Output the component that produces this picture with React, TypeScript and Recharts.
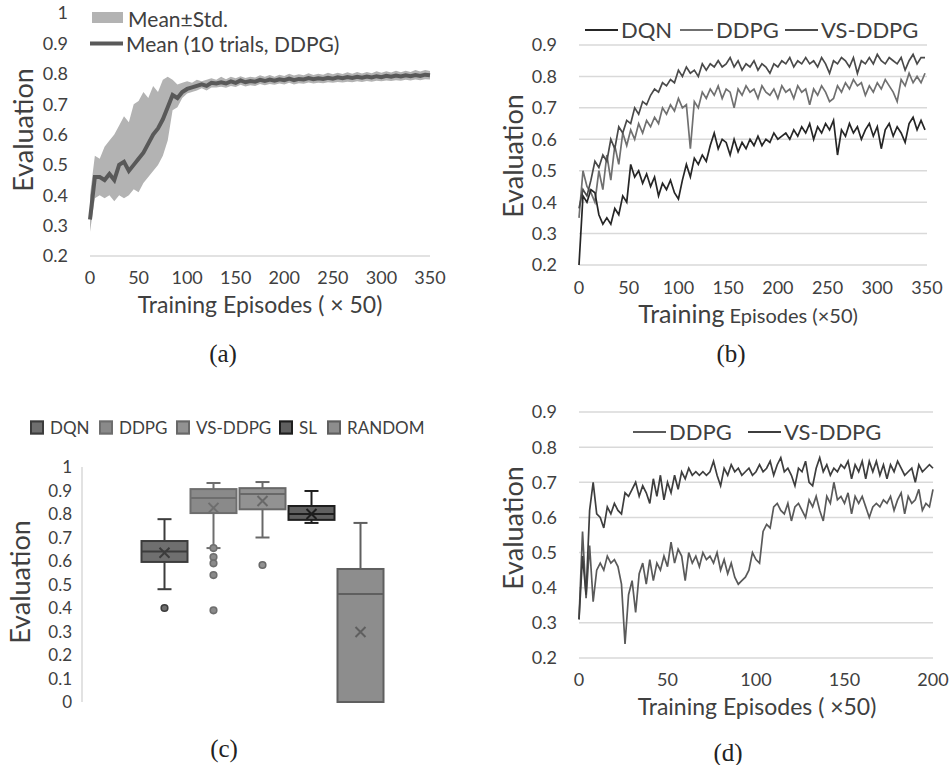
import React from 'react';
import { ComposedChart, LineChart, Line, Area, Bar, XAxis, YAxis, CartesianGrid } from 'recharts';

const FONT = 'Lato, "Open Sans", sans-serif';
const INK = '#404040';
const GRID = '#d9d9d9';

// (a) mean and mean±std over 10 DDPG trials, sampled every 5 episodes
const MEAN_A = [
  0.32, 0.46, 0.46, 0.45, 0.47, 0.45, 0.50, 0.51, 0.48, 0.50,
  0.52, 0.54, 0.57, 0.60, 0.62, 0.65, 0.69, 0.73, 0.72, 0.74,
  0.75, 0.755, 0.76, 0.765, 0.76, 0.77, 0.768, 0.772, 0.768, 0.775,
  0.77, 0.778, 0.772, 0.776, 0.774, 0.78, 0.776, 0.781, 0.777, 0.782,
  0.779, 0.784, 0.779, 0.783, 0.781, 0.786, 0.782, 0.785, 0.783, 0.787,
  0.784, 0.788, 0.785, 0.789, 0.786, 0.79, 0.787, 0.791, 0.788, 0.792,
  0.789, 0.793, 0.79, 0.794, 0.791, 0.795, 0.792, 0.796, 0.793, 0.797,
  0.795,
];
const UPPER_A = [
  0.40, 0.53, 0.52, 0.56, 0.58, 0.60, 0.63, 0.66, 0.64, 0.70,
  0.71, 0.74, 0.72, 0.76, 0.74, 0.78, 0.79, 0.78, 0.765, 0.77,
  0.775, 0.77, 0.78, 0.775, 0.78, 0.785, 0.78, 0.79, 0.782, 0.79,
  0.785, 0.792, 0.786, 0.79, 0.788, 0.795, 0.79, 0.796, 0.79, 0.797,
  0.793, 0.80, 0.794, 0.798, 0.795, 0.802, 0.796, 0.80, 0.797, 0.803,
  0.798, 0.803, 0.799, 0.805, 0.80, 0.806, 0.801, 0.806, 0.802, 0.808,
  0.803, 0.808, 0.804, 0.81, 0.805, 0.81, 0.806, 0.812, 0.807, 0.812,
  0.809,
];
const LOWER_A = [
  0.28, 0.39, 0.40, 0.39, 0.40, 0.38, 0.40, 0.39, 0.40, 0.42,
  0.41, 0.44, 0.46, 0.48, 0.50, 0.53, 0.58, 0.68, 0.69, 0.72,
  0.735, 0.74, 0.745, 0.752, 0.745, 0.755, 0.755, 0.757, 0.754, 0.76,
  0.756, 0.764, 0.758, 0.762, 0.76, 0.766, 0.762, 0.766, 0.764, 0.768,
  0.765, 0.77, 0.765, 0.769, 0.767, 0.771, 0.768, 0.77, 0.769, 0.772,
  0.77, 0.773, 0.771, 0.774, 0.772, 0.775, 0.773, 0.776, 0.774, 0.777,
  0.775, 0.778, 0.776, 0.779, 0.777, 0.78, 0.778, 0.781, 0.779, 0.782,
  0.781,
];

// (b) evaluation curves, sampled every 4 episodes
const DQN_B = [
  0.20, 0.42, 0.40, 0.44, 0.43, 0.36, 0.33, 0.35, 0.33, 0.38,
  0.36, 0.42, 0.40, 0.52, 0.48, 0.50, 0.46, 0.49, 0.45, 0.48,
  0.42, 0.46, 0.44, 0.47, 0.43, 0.41, 0.47, 0.52, 0.48, 0.54,
  0.52, 0.55, 0.53, 0.58, 0.62, 0.57, 0.60, 0.59, 0.55, 0.60,
  0.56, 0.59, 0.57, 0.60, 0.58, 0.61, 0.58, 0.60, 0.59, 0.62,
  0.60, 0.61, 0.62, 0.60, 0.63, 0.61, 0.64, 0.62, 0.65, 0.60,
  0.64, 0.62, 0.65, 0.63, 0.66, 0.55, 0.63, 0.61, 0.65, 0.62,
  0.64, 0.60, 0.63, 0.65, 0.61, 0.64, 0.57, 0.63, 0.65, 0.61,
  0.64, 0.62, 0.59, 0.65, 0.67, 0.63, 0.66, 0.63,
];
const DDPG_B = [
  0.35, 0.50, 0.45, 0.43, 0.40, 0.50, 0.44, 0.55, 0.47, 0.58,
  0.52, 0.62, 0.58, 0.63, 0.60, 0.65, 0.62, 0.66, 0.64, 0.67,
  0.65, 0.70, 0.68, 0.71, 0.69, 0.73, 0.70, 0.71, 0.57, 0.72,
  0.70, 0.75, 0.73, 0.76, 0.74, 0.77, 0.73, 0.76, 0.75, 0.70,
  0.76, 0.74, 0.77, 0.75, 0.76, 0.73, 0.77, 0.75, 0.74, 0.76,
  0.73, 0.77, 0.75, 0.76, 0.73, 0.77, 0.75, 0.76, 0.71, 0.76,
  0.74, 0.77, 0.75, 0.72, 0.73, 0.77, 0.75, 0.78, 0.76, 0.79,
  0.77, 0.78, 0.74, 0.77, 0.75, 0.78, 0.76, 0.79, 0.77, 0.75,
  0.72, 0.79, 0.77, 0.81, 0.78, 0.80, 0.78, 0.81,
];
const VSDDPG_B = [
  0.38, 0.44, 0.42, 0.47, 0.53, 0.51, 0.55, 0.53, 0.60, 0.57,
  0.64, 0.62, 0.66, 0.65, 0.70, 0.68, 0.72, 0.71, 0.74, 0.76,
  0.75, 0.78, 0.77, 0.79, 0.78, 0.82, 0.80, 0.83, 0.81, 0.82,
  0.80, 0.84, 0.82, 0.84, 0.83, 0.85, 0.83, 0.84, 0.86, 0.83,
  0.85, 0.82, 0.84, 0.83, 0.85, 0.82, 0.84, 0.83, 0.81, 0.84,
  0.83, 0.85, 0.84, 0.86, 0.83, 0.85, 0.84, 0.86, 0.84, 0.85,
  0.83, 0.86, 0.84, 0.81, 0.85, 0.84, 0.86, 0.85, 0.83, 0.86,
  0.81, 0.85, 0.84, 0.86, 0.84, 0.87, 0.85, 0.84, 0.86, 0.85,
  0.84, 0.86, 0.82, 0.85, 0.87, 0.84, 0.86, 0.86,
];

// (c) box plot statistics
const METHODS_C = ['DQN', 'DDPG', 'VS-DDPG', 'SL', 'RANDOM'];
const MIN_C = [0.48, 0.655, 0.70, 0.762, 0];
const Q1_C = [0.596, 0.804, 0.82, 0.775, 0];
const MEDIAN_C = [0.64, 0.868, 0.885, 0.80, 0.46];
const Q3_C = [0.685, 0.906, 0.91, 0.834, 0.566];
const MAX_C = [0.778, 0.932, 0.936, 0.898, 0.762];
const AVG_C = [0.635, 0.826, 0.855, 0.80, 0.298];
const OUTLIERS_C = [[0.40], [0.655, 0.617, 0.59, 0.54, 0.39], [0.583], [], []];

// (d) evaluation curves, sampled every 2 episodes
const DDPG_D = [
  0.31, 0.56, 0.37, 0.52, 0.36, 0.45, 0.47, 0.45, 0.49, 0.47,
  0.48, 0.46, 0.41, 0.24, 0.38, 0.42, 0.33, 0.44, 0.47, 0.41,
  0.48, 0.42, 0.47, 0.45, 0.49, 0.46, 0.53, 0.47, 0.51, 0.49,
  0.42, 0.50, 0.47, 0.49, 0.46, 0.50, 0.48, 0.49, 0.47, 0.50,
  0.45, 0.48, 0.44, 0.47, 0.43, 0.41, 0.42, 0.43, 0.45, 0.50,
  0.48, 0.47, 0.56, 0.58, 0.57, 0.63, 0.64, 0.62, 0.61, 0.64,
  0.59, 0.63, 0.64, 0.62, 0.60, 0.65, 0.63, 0.66, 0.62, 0.59,
  0.66, 0.64, 0.70, 0.65, 0.66, 0.64, 0.67, 0.61, 0.66, 0.64,
  0.66, 0.63, 0.60, 0.63, 0.64, 0.63, 0.65, 0.64, 0.66, 0.62,
  0.65, 0.67, 0.61, 0.66, 0.64, 0.65, 0.68, 0.62, 0.64, 0.63,
  0.68,
];
const VSDDPG_D = [
  0.31, 0.49, 0.38, 0.62, 0.70, 0.61, 0.60, 0.57, 0.63, 0.61,
  0.64, 0.62, 0.61, 0.67, 0.66, 0.68, 0.70, 0.66, 0.69, 0.67,
  0.64, 0.71, 0.66, 0.72, 0.65, 0.70, 0.67, 0.72, 0.68, 0.73,
  0.71, 0.74, 0.72, 0.73, 0.72, 0.73, 0.72, 0.73, 0.76, 0.72,
  0.69, 0.74, 0.72, 0.75, 0.73, 0.74, 0.72, 0.73, 0.74, 0.72,
  0.73, 0.75, 0.73, 0.74, 0.76, 0.72, 0.75, 0.77, 0.73, 0.74,
  0.72, 0.69, 0.74, 0.73, 0.76, 0.70, 0.69, 0.74, 0.77, 0.73,
  0.75, 0.72, 0.74, 0.73, 0.75, 0.74, 0.76, 0.71, 0.75, 0.73,
  0.76, 0.71, 0.76, 0.73, 0.76, 0.72, 0.75, 0.71, 0.75, 0.73,
  0.76, 0.74, 0.72, 0.73, 0.74, 0.70, 0.75, 0.73, 0.74, 0.75,
  0.74,
];

const TICKS_A_X = [0, 50, 100, 150, 200, 250, 300, 350];
const TICKS_A_Y = [0.2, 0.3, 0.4, 0.5, 0.6, 0.7, 0.8, 0.9, 1];
const TICKS_B_Y = [0.2, 0.3, 0.4, 0.5, 0.6, 0.7, 0.8, 0.9];
const TICKS_C_Y = [0, 0.1, 0.2, 0.3, 0.4, 0.5, 0.6, 0.7, 0.8, 0.9, 1];
const TICKS_D_X = [0, 50, 100, 150, 200];

const BOX_FILL = ['#6f6f6f', '#8a8a8a', '#929292', '#606060', '#8d8d8d'];
const BOX_EDGE = ['#3c3c3c', '#6e6e6e', '#686868', '#1e1e1e', '#5f5f5f'];

const dataA = MEAN_A.map((m, i) => ({ ep: i * 5, mean: m, band: [LOWER_A[i], UPPER_A[i]] }));
const dataB = DQN_B.map((v, i) => ({ ep: i * 4, dqn: v, ddpg: DDPG_B[i], vs: VSDDPG_B[i] }));
const dataC = METHODS_C.map((name, i) => ({
  name, min: MIN_C[i], q1: Q1_C[i], med: MEDIAN_C[i], q3: Q3_C[i], max: MAX_C[i], avg: AVG_C[i], out: OUTLIERS_C[i],
}));
const dataD = DDPG_D.map((v, i) => ({ ep: i * 2, ddpg: v, vs: VSDDPG_D[i] }));

const fmt = (v: number) => String(Number(v.toFixed(1)));
const tick = { fill: INK, fontSize: 17, fontFamily: FONT };

// whole box-and-whisker drawn from the bar's own [q1, q3] geometry
const BoxShape = (props: any) => {
  const { x, y, width, height, payload, index } = props;
  const { q1, q3, min, max, med, avg, out } = payload;
  const unit = height / (q3 - q1);
  const py = (v: number) => y + (q3 - v) * unit;
  const cx = x + width / 2;
  const edge = BOX_EDGE[index];
  const fill = BOX_FILL[index];
  const cap = 7;
  const m = py(avg);
  return (
    <g>
      <line x1={cx} x2={cx} y1={py(max)} y2={y} stroke={edge} strokeWidth={2} />
      <line x1={cx - cap} x2={cx + cap} y1={py(max)} y2={py(max)} stroke={edge} strokeWidth={2} />
      {min < q1 && <line x1={cx} x2={cx} y1={y + height} y2={py(min)} stroke={edge} strokeWidth={2} />}
      {min < q1 && <line x1={cx - cap} x2={cx + cap} y1={py(min)} y2={py(min)} stroke={edge} strokeWidth={2} />}
      <rect x={x} y={y} width={width} height={height} fill={fill} stroke={edge} strokeWidth={2} />
      <line x1={x} x2={x + width} y1={py(med)} y2={py(med)} stroke={edge} strokeWidth={2} />
      <path d={`M${cx - 5},${m - 5}L${cx + 5},${m + 5}M${cx + 5},${m - 5}L${cx - 5},${m + 5}`} stroke={edge} strokeWidth={2} />
      {out.map((v: number, k: number) => (
        <circle key={k} cx={cx} cy={py(v)} r={3.3} fill={fill} stroke={edge} strokeWidth={1.6} />
      ))}
    </g>
  );
};

const Txt: React.FC<{ x: number; y: number; size: number; rotate?: boolean; serif?: boolean; children: React.ReactNode }> = ({ x, y, size, rotate, serif, children }) => (
  <div style={{
    position: 'absolute', left: x, top: y, fontSize: size, lineHeight: 1, whiteSpace: 'nowrap',
    color: serif ? '#222' : INK, fontFamily: serif ? '"Liberation Serif", serif' : FONT,
    transform: `translate(-50%, -50%)${rotate ? ' rotate(-90deg)' : ''}`,
  }}>{children}</div>
);

const LineKey: React.FC<{ x: number; y: number; color: string; label: string; size: number; w?: number; thick?: number }> = ({ x, y, color, label, size, w = 33, thick = 2 }) => (
  <div style={{ position: 'absolute', left: x, top: y, transform: 'translateY(-50%)', display: 'flex', alignItems: 'center', fontFamily: FONT, fontSize: size, color: INK, whiteSpace: 'nowrap', lineHeight: 1 }}>
    <div style={{ width: w, height: thick, background: color, marginRight: 3 }} />
    <span>{label}</span>
  </div>
);

const App: React.FC = () => (
  <div style={{ position: 'absolute', left: 0, top: 0, width: 951, height: 765, background: '#fff', overflow: 'hidden' }}>
    {/* (a) */}
    <div style={{ position: 'absolute', left: 0, top: 0 }}>
      <ComposedChart width={470} height={300} data={dataA} margin={{ top: 13, right: 40, bottom: 0, left: 0 }}>
        <XAxis dataKey="ep" type="number" domain={[0, 350]} ticks={TICKS_A_X} height={44} tickSize={0} tickMargin={15}
          interval={0} axisLine={{ stroke: GRID, strokeWidth: 1.5 }} tickLine={false} tick={{ ...tick, fontSize: 18 }} />
        <YAxis domain={[0.2, 1]} ticks={TICKS_A_Y} width={90} tickSize={0} tickMargin={22} axisLine={false}
          interval={0} tickLine={false} tickFormatter={fmt} tick={{ ...tick, fontSize: 18 }} />
        <Area dataKey="band" type="linear" stroke="none" fill="#b3b3b3" fillOpacity={1} isAnimationActive={false} />
        <Line dataKey="mean" type="linear" stroke="#595959" strokeWidth={4} dot={false} isAnimationActive={false} />
      </ComposedChart>
    </div>
    <div style={{ position: 'absolute', left: 92, top: 12, width: 31, height: 11, background: '#b3b3b3' }} />
    <Txt x={127 + 51} y={18} size={21}><span>Mean±Std.</span></Txt>
    <LineKey x={90} y={43} color="#595959" label="Mean (10 trials, DDPG)" size={21} thick={4} />
    <Txt x={22} y={130} size={27} rotate>Evaluation</Txt>
    <Txt x={260} y={304} size={23}>Training Episodes ( × 50)</Txt>
    <Txt x={223} y={353} size={25} serif>(a)</Txt>

    {/* (b) */}
    <div style={{ position: 'absolute', left: 480, top: 0 }}>
      <LineChart width={471} height={330} data={dataB} margin={{ top: 45, right: 24, bottom: 0, left: 0 }}>
        <CartesianGrid vertical={false} stroke={GRID} strokeWidth={1.5} />
        <XAxis dataKey="ep" type="number" domain={[0, 350]} ticks={TICKS_A_X} height={65} tickSize={0} tickMargin={16}
          interval={0} axisLine={false} tickLine={false} tick={{ ...tick, fontSize: 18 }} />
        <YAxis domain={[0.2, 0.9]} ticks={TICKS_B_Y} width={99} tickSize={0} tickMargin={22} axisLine={false}
          interval={0} tickLine={false} tickFormatter={fmt} tick={{ ...tick, fontSize: 18 }} />
        <Line dataKey="ddpg" type="linear" stroke="#707070" strokeWidth={1.7} dot={false} isAnimationActive={false} />
        <Line dataKey="vs" type="linear" stroke="#4a4a4a" strokeWidth={1.7} dot={false} isAnimationActive={false} />
        <Line dataKey="dqn" type="linear" stroke="#262626" strokeWidth={1.7} dot={false} isAnimationActive={false} />
      </LineChart>
    </div>
    <LineKey x={585} y={30} color="#262626" label="DQN" size={22} />
    <LineKey x={680} y={30} color="#707070" label="DDPG" size={22} />
    <LineKey x={785} y={30} color="#4a4a4a" label="VS-DDPG" size={22} />
    <Txt x={512} y={156} size={27} rotate>Evaluation</Txt>
    <Txt x={748} y={313} size={25}>Training<span style={{ fontSize: 20 }}> Episodes (×50)</span></Txt>
    <Txt x={731} y={353} size={25} serif>(b)</Txt>

    {/* (c) */}
    <div style={{ position: 'absolute', left: 0, top: 440 }}>
      <ComposedChart width={470} height={280} data={dataC} margin={{ top: 27, right: 30, bottom: 18, left: 0 }}>
        <XAxis dataKey="name" hide padding={{ left: 57.5, right: 55.5 }} />
        <YAxis domain={[0, 1]} ticks={TICKS_C_Y} width={82} tickSize={0} tickMargin={10} interval={0}
          axisLine={{ stroke: GRID, strokeWidth: 1.5 }} tickLine={false} tickFormatter={fmt} tick={tick} />
        <Bar dataKey={(d: any) => [d.q1, d.q3]} barSize={46} shape={BoxShape} isAnimationActive={false} />
      </ComposedChart>
    </div>
    {METHODS_C.map((name, i) => (
      <div key={name} style={{ position: 'absolute', left: [30, 99, 176, 279, 327][i], top: 427, transform: 'translateY(-50%)', display: 'flex', alignItems: 'center', fontFamily: FONT, fontSize: 17, color: INK, lineHeight: 1, whiteSpace: 'nowrap' }}>
        <div style={{ width: 10, height: 10, background: BOX_FILL[i], border: `2px solid ${BOX_EDGE[i]}`, marginRight: 6 }} />
        <span>{name}</span>
      </div>
    ))}
    <Txt x={19} y={582} size={27} rotate>Evaluation</Txt>
    <Txt x={224} y={748} size={25} serif>(c)</Txt>

    {/* (d) */}
    <div style={{ position: 'absolute', left: 480, top: 390 }}>
      <LineChart width={471} height={330} data={dataD} margin={{ top: 22, right: 18, bottom: 0, left: 0 }}>
        <CartesianGrid vertical={false} stroke={GRID} strokeWidth={1.5} />
        <XAxis dataKey="ep" type="number" domain={[0, 200]} ticks={TICKS_D_X} height={62} tickSize={0} tickMargin={15}
          interval={0} axisLine={false} tickLine={false} tick={{ ...tick, fontSize: 18 }} />
        <YAxis domain={[0.2, 0.9]} ticks={TICKS_B_Y} width={99} tickSize={0} tickMargin={22} axisLine={false}
          interval={0} tickLine={false} tickFormatter={fmt} tick={{ ...tick, fontSize: 18 }} />
        <Line dataKey="ddpg" type="linear" stroke="#5a5a5a" strokeWidth={1.7} dot={false} isAnimationActive={false} />
        <Line dataKey="vs" type="linear" stroke="#3e3e3e" strokeWidth={1.7} dot={false} isAnimationActive={false} />
      </LineChart>
    </div>
    <LineKey x={633} y={432} color="#5a5a5a" label="DDPG" size={22} />
    <LineKey x={748} y={432} color="#3e3e3e" label="VS-DDPG" size={22} />
    <Txt x={512} y={528} size={27} rotate>Evaluation</Txt>
    <Txt x={757} y={706} size={23}>Training Episodes ( ×50)</Txt>
    <Txt x={728} y={752} size={25} serif>(d)</Txt>
  </div>
);

export default App;
